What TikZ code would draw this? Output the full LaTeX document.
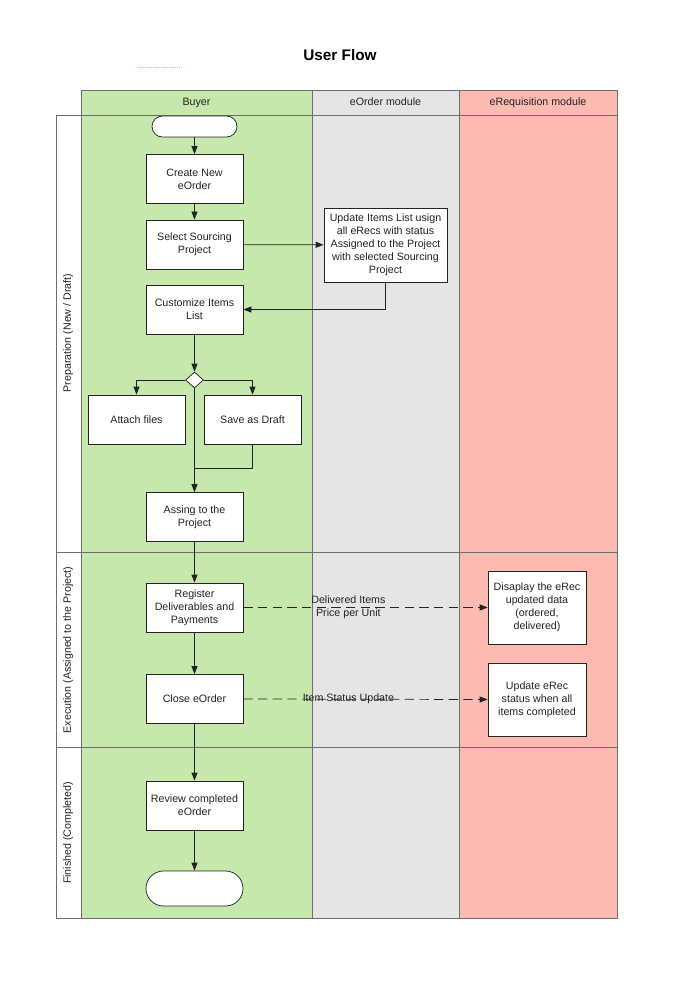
\documentclass[tikz,border=0pt]{standalone}
\usepackage{fontspec}
\setmainfont{Liberation Sans}
\usetikzlibrary{positioning,arrows.meta,shapes.geometric,shapes.misc}
\definecolor{BuyerGreen}{RGB}{198,232,172}
\definecolor{ModuleGray}{RGB}{229,229,229}
\definecolor{ReqPink}{RGB}{252,186,176}
\definecolor{LaneLine}{RGB}{110,110,110}
\definecolor{InkGray}{RGB}{35,35,35}

\begin{document}
\begin{tikzpicture}[x=0.75pt,y=-0.75pt, every node/.style={font=\fontsize{8}{9.75}\selectfont, align=center, text=InkGray},
  task/.style={draw=InkGray, line width=0.55pt, fill=white, inner sep=0pt, minimum width=72.75pt, minimum height=36.75pt},
  lanehead/.style={text height=1.6ex, text depth=0.45ex},
  flow/.style={-{Triangle[length=6pt,width=4.5pt]}, InkGray, line width=0.55pt},
  msg/.style={flow, dash pattern=on 7pt off 4pt}]
  \useasboundingbox (0,0) rectangle (680,991);

  \node[font=\fontsize{11.5}{13}\selectfont\bfseries, text=black] (title) at (340,55) {User Flow};
  \draw[red!35, densely dotted, line width=0.5pt] (137,67) -- (183,67);

  % lanes and phases
  \fill[BuyerGreen] (81,90) rectangle (312,918);
  \fill[ModuleGray] (312,90) rectangle (459,918);
  \fill[ReqPink] (459,90) rectangle (617,918);
  \fill[white] (56,115) rectangle (81,918);
  \draw[LaneLine, line width=0.6pt] (81,90) rectangle (617,918);
  \draw[LaneLine, line width=0.6pt] (56,115) rectangle (81,918);
  \draw[LaneLine, line width=0.6pt] (312,90) -- (312,918);
  \draw[LaneLine, line width=0.6pt] (459,90) -- (459,918);
  \draw[LaneLine, line width=0.6pt] (56,115) -- (617,115);
  \draw[LaneLine, line width=0.6pt] (56,552) -- (617,552);
  \draw[LaneLine, line width=0.6pt] (56,747) -- (617,747);

  \node[lanehead] (buyer) at (196.5,101) {Buyer};
  \node[lanehead] (eorder) at (385.5,101) {eOrder module};
  \node[lanehead] (ereq) at (538,101) {eRequisition module};
  \node[rotate=90] (prep) at (68,333) {Preparation (New / Draft)};
  \node[rotate=90] (exec) at (68,650) {Execution (Assigned to the Project)};
  \node[rotate=90] (fin) at (68,833) {Finished (Completed)};

  % buyer flow
  \node[rounded rectangle, draw=InkGray, line width=0.55pt, fill=white, minimum width=63.75pt, minimum height=15.75pt, inner sep=0pt] (start) at (194.5,126.5) {};
  \node[task] (create) at (194.5,179) {Create New\\eOrder};
  \node[task] (select) at (194.5,244.5) {Select Sourcing\\Project};
  \node[task, minimum width=92.25pt, minimum height=55.5pt] (updlist) at (385.5,245) {Update Items List usign\\all eRecs with status\\Assigned to the Project\\with selected Sourcing\\Project};
  \node[task] (custom) at (194.5,309.5) {Customize Items\\List};
  \node[diamond, draw=InkGray, line width=0.55pt, fill=white, minimum width=13.5pt, minimum height=12pt, inner sep=0pt] (choice) at (194.5,380) {};
  \node[task] (attach) at (136.5,419.5) {Attach files};
  \node[task] (draft) at (252.5,419.5) {Save as Draft};
  \coordinate (merge) at (194.5,468);
  \node[task] (assign) at (194.5,517) {Assing to the\\Project};

  \draw[flow] (start) -- (create);
  \draw[flow] (create) -- (select);
  \draw[flow] (select) -- (updlist);
  \draw[flow] (updlist.south) |- (custom.east);
  \draw[flow] (custom.south) -- (choice.north);
  \draw[flow] (choice.west) -| (attach.north);
  \draw[flow] (choice.east) -| (draft.north);
  \draw[flow] (choice.south) -- (assign.north);
  \draw[InkGray, line width=0.55pt] (draft.south) |- (merge);

  % execution
  \node[task] (register) at (194.5,607.5) {Register\\Deliverables and\\Payments};
  \node[task] (close) at (194.5,699) {Close eOrder};
  \node[task, minimum width=73.5pt, minimum height=54.75pt] (display) at (537,607.5) {Disaplay the eRec\\updated data\\(ordered,\\delivered)};
  \node[task, minimum width=73.5pt, minimum height=54.75pt] (recupd) at (537,699.5) {Update eRec\\status when all\\items completed};
  \draw[flow] (assign) -- (register);
  \draw[flow] (register) -- (close);
  \draw[msg] (register.east) -- node[pos=0.43] {Delivered Items\\Price per Unit} (display.west);
  \draw[msg] (close.east) -- node[pos=0.43] {Item Status Update} (recupd.west);

  % finished
  \node[task] (review) at (194.5,805.5) {Review completed\\eOrder};
  \node[rounded rectangle, draw=InkGray, line width=0.55pt, fill=white, minimum width=72.75pt, minimum height=26.25pt, inner sep=0pt] (finish) at (194.5,888.5) {};
  \draw[flow] (close) -- (review);
  \draw[flow] (review) -- (finish);
\end{tikzpicture}
\end{document}
